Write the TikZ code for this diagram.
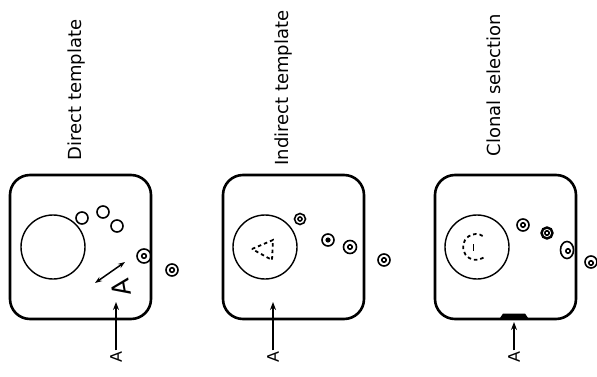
\documentclass[tikz,border=0pt]{standalone}
\usepackage{fontspec}
\setmainfont{DejaVu Sans}
\usetikzlibrary{arrows.meta}

\tikzset{
  cell/.style={line width=2.6pt, rounded corners=20pt},
  nucleus/.style={line width=1.4pt},
  vesicle/.style={line width=1.6pt},
  heading/.style={rotate=90, font=\fontsize{18}{21}\selectfont},
  agname/.style={rotate=90, inner sep=1pt, font=\fontsize{16}{19}\selectfont},
  push/.style={-{Stealth[length=8pt,width=6pt]}, line width=1.6pt},
  template/.style={line width=1.8pt, dash pattern=on 3.5pt off 3pt},
}

\begin{document}
\begin{tikzpicture}[x=1pt, y=-1pt]
    \useasboundingbox (0,0) rectangle (597,377);

    % Headings
    \node[heading] (hdirect) at (77,90) {Direct template};
    \node[heading] (hindirect) at (284,88) {Indirect template};
    \node[heading] (hclonal) at (494,85) {Clonal selection};

    % Cells
    \foreach \l in {10, 223, 435} {
        \draw[cell] (\l,175) rectangle ++(141,144);
    }

    % Nuclei
    \foreach \cx in {53, 265, 477} {
        \draw[nucleus] (\cx,247) circle (32);
    }

    % Direct template: free vesicles and the antigen inside the cell
    \foreach \px/\py in {82/218, 103/212, 117/226} {
        \draw[vesicle] (\px,\py) circle (6);
    }
    \draw[vesicle] (144,256) circle (7) (144,256) circle (2.3);
    \draw[vesicle] (172,270) circle (6) (172,270) circle (2.3);
    \node[rotate=100, inner sep=0pt, font=\fontsize{25}{28}\selectfont] (antigen) at (121,288) {A};
    \coordinate (swapa) at (95,283);
    \coordinate (swapb) at (125,262);
    \draw[{Stealth[length=7pt,width=5pt]}-{Stealth[length=7pt,width=5pt]}, line width=1.5pt] (swapa) -- (swapb);
    \node[agname] (agdirect) at (116,357) {A};
    \coordinate (hit) at (116,302);
    \draw[push] (agdirect.east) -- (agdirect.east |- hit);

    % Indirect template: dashed template in the nucleus
    \draw[template] (252,249) -- (273,240) -- (272,260) -- cycle;
    \draw[vesicle] (300,219) circle (5.5) (300,219) circle (2);
    \draw[vesicle] (328,240) circle (6);
    \fill (328,240) circle (2.6);
    \draw[vesicle] (350,247) circle (6.5) (350,247) circle (2.2);
    \draw[vesicle] (384,260) circle (6) (384,260) circle (2.2);
    \node[agname] (agindirect) at (273,357) {A};
    \coordinate (entry) at (273,302);
    \draw[push] (agindirect.east) -- (agindirect.east |- entry);

    % Clonal selection: receptor patch on the membrane
    \draw[template] (476,247) ++(55:13) arc (55:305:13);
    \draw[line width=1.8pt] (473.5,244) -- (473.5,251);
    \draw[vesicle] (523,225) circle (6) (523,225) circle (2.2);
    \draw[line width=2.4pt] (547,233) circle (5.5);
    \draw[vesicle] (547,233) circle (2.2);
    \draw[vesicle] (567,250) ellipse (6.5 and 8.5) (568,251) circle (2.2);
    \draw[vesicle] (591,262) circle (6) (591,263) circle (2.2);
    \fill (500,318) -- (503,313.5) -- (525,313.5) -- (528,318) -- cycle;
    \coordinate (patch) at (514,322);
    \node[agname] (agclonal) at (514,357) {A};
    \draw[push] (agclonal.east) -- (agclonal.east |- patch);
\end{tikzpicture}
\end{document}
